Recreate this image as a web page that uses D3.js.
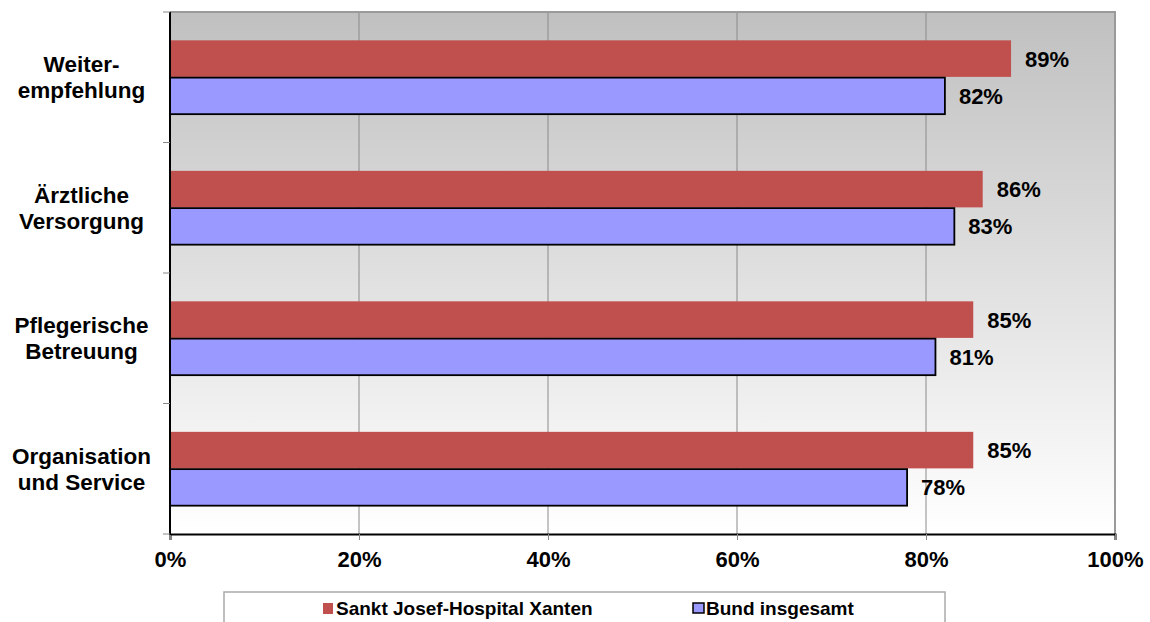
<!DOCTYPE html>
<html><head><meta charset="utf-8">
<script src="https://cdn.jsdelivr.net/npm/d3@7"></script>
<style>body{margin:0;background:#fff}svg{display:block}</style>
</head><body>
<svg id="chart" width="1150" height="622"></svg>
<script>
const categories = [["Weiter-","empfehlung"],["Ärztliche","Versorgung"],["Pflegerische","Betreuung"],["Organisation","und Service"]];
const seriesNames = ["Sankt Josef-Hospital Xanten","Bund insgesamt"];
const hospitalValues = [89, 86, 85, 85];
const bundValues = [82, 83, 81, 78];
const xTicks = [0,20,40,60,80,100];

const svg = d3.select("#chart");
const font = "'Liberation Sans', Arial, Helvetica, sans-serif";
const m = {left:170, right:1115, top:12, bottom:534};
const x = d3.scaleLinear().domain([0,100]).range([m.left, m.right]);
const catIdx = d3.range(categories.length);
const y = d3.scaleBand().domain(catIdx).range([m.top, m.bottom]).paddingInner(0).paddingOuter(0);
const y2 = d3.scaleBand().domain([0,1]).range([0, y.bandwidth()]).paddingInner(0.02).paddingOuter(0.76);

const defs = svg.append("defs");
const grad = defs.append("linearGradient").attr("id","bg").attr("x1",0).attr("y1",0).attr("x2",0).attr("y2",1);
grad.append("stop").attr("offset","0%").attr("stop-color","#c0c0c0");
grad.append("stop").attr("offset","100%").attr("stop-color","#ffffff");

svg.append("rect").attr("x",m.left).attr("y",m.top).attr("width",m.right-m.left).attr("height",m.bottom-m.top).attr("fill","url(#bg)");

// gridlines
svg.append("g").selectAll("line").data(xTicks.slice(1,-1)).join("line")
  .attr("x1",d=>x(d)).attr("x2",d=>x(d)).attr("y1",m.top).attr("y2",m.bottom)
  .attr("stroke","#8a8a8a").attr("stroke-width",1);
// border top & right
svg.append("path").attr("d",`M${m.left},${m.top}H${m.right}V${m.bottom}`).attr("fill","none").attr("stroke","#9a9a9a").attr("stroke-width",2);

const series = [hospitalValues, bundValues];
const colors = ["#C0504D","#9999FF"];
series.forEach((vals, s) => {
  const g = svg.append("g");
  g.selectAll("rect").data(vals).join("rect")
    .attr("x", x(0))
    .attr("y", (d,i)=> y(i)+y2(s))
    .attr("width", d=> x(d)-x(0))
    .attr("height", y2.bandwidth())
    .attr("fill", colors[s])
    .attr("stroke", s===1 ? "#000" : "none")
    .attr("stroke-width", 1.8);
  g.selectAll("text").data(vals).join("text")
    .attr("x", d=> x(d)+14)
    .attr("y", (d,i)=> y(i)+y2(s)+y2.bandwidth()/2+8)
    .attr("font-family",font).attr("font-weight","bold").attr("font-size",22)
    .attr("fill","#000")
    .text(d=> d+"%");
});

// axes
const xAxis = d3.axisBottom(x).tickValues(xTicks).tickFormat(d=>d+"%").tickSize(6).tickPadding(11);
const gx = svg.append("g").attr("transform",`translate(0,${m.bottom})`).call(xAxis);
gx.select(".domain").attr("stroke","#000").attr("stroke-width",2);
gx.selectAll(".tick line").attr("stroke","#888");
gx.selectAll("text").attr("font-family",font).attr("font-weight","bold").attr("font-size",22).attr("fill","#000");

// left axis line and ticks
svg.append("line").attr("x1",m.left).attr("x2",m.left).attr("y1",m.top).attr("y2",m.bottom+1).attr("stroke","#000").attr("stroke-width",2);
const bounds = catIdx.map(i=>y(i)).concat([m.bottom]);
svg.append("g").selectAll("line").data(bounds).join("line")
  .attr("x1",m.left-7).attr("x2",m.left).attr("y1",d=>d).attr("y2",d=>d)
  .attr("stroke","#888").attr("stroke-width",1);

// category labels
const cl = svg.append("g");
categories.forEach((lines,i)=>{
  const cy = y(i)+y.bandwidth()/2;
  const t = cl.append("text").attr("text-anchor","middle")
    .attr("font-family",font).attr("font-weight","bold").attr("font-size",22.5).attr("fill","#000");
  lines.forEach((ln,j)=>{
    t.append("tspan").attr("x",81.5).attr("y", cy - 13 + 8 + j*26).text(ln);
  });
});

// legend
const lg = svg.append("g");
lg.append("rect").attr("x",224).attr("y",592).attr("width",721).attr("height",40).attr("fill","#fff").attr("stroke","#aaa").attr("stroke-width",1.5);
const legendItems = [{x:323, name:seriesNames[0], c:colors[0], stroke:"none"},{x:693, name:seriesNames[1], c:colors[1], stroke:"#000"}];
legendItems.forEach(it=>{
  lg.append("rect").attr("x",it.x).attr("y",603).attr("width",it.stroke==="none"?10:11).attr("height",it.stroke==="none"?11:10)
    .attr("fill",it.c).attr("stroke",it.stroke).attr("stroke-width",1.5);
  lg.append("text").attr("x",it.x+13).attr("y",615).attr("font-family",font).attr("font-weight","bold").attr("font-size",19).attr("fill","#000").text(it.name);
});
</script>
</body></html>
